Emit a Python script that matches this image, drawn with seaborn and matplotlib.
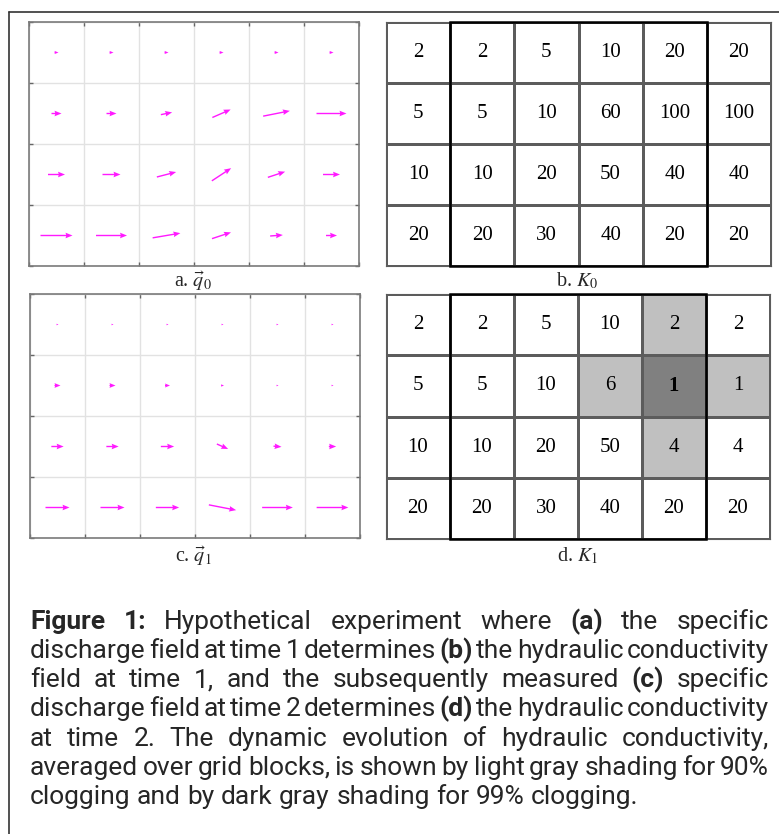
import numpy as np
import matplotlib
matplotlib.use('Agg')
import matplotlib.pyplot as plt
from matplotlib.colors import ListedColormap
from matplotlib.patches import Rectangle
from matplotlib.lines import Line2D
from matplotlib import font_manager
import seaborn as sns

# hydraulic conductivity grids (row 0 = top row)
k0_values = [[2, 2, 5, 10, 20, 20],
             [5, 5, 10, 60, 100, 100],
             [10, 10, 20, 50, 40, 40],
             [20, 20, 30, 40, 20, 20]]
k1_values = [[2, 2, 5, 10, 2, 2],
             [5, 5, 10, 6, 1, 1],
             [10, 10, 20, 50, 4, 4],
             [20, 20, 30, 40, 20, 20]]
# shading: 0 none, 1 = 90% clogging (light gray), 2 = 99% clogging (dark gray)
k0_clog = [[0] * 6 for _ in range(4)]
k1_clog = [[0, 0, 0, 0, 1, 0],
           [0, 0, 0, 1, 2, 1],
           [0, 0, 0, 0, 1, 0],
           [0, 0, 0, 0, 0, 0]]

# specific discharge vectors (x / y components, row 0 = top row)
q0_u = [[4, 4, 4, 4, 4, 4],
        [10, 10, 11.3, 18.3, 26.7, 30],
        [17, 18, 19.3, 19.3, 17.3, 17],
        [32, 31, 27.7, 19, 12.7, 11]]
q0_v = [[0, 0, 0, 0, 0, 0],
        [0, 0, 2.3, 8, 5.3, 0],
        [0, 0, 5, 12.7, 5.7, 0],
        [0, 0, 4.7, 6.3, 1, 0]]
q1_u = [[2, 2, 2, 2, 2, 2],
        [6, 6, 5, 3, 2, 2],
        [12.3, 12.3, 13.3, 11.3, 8, 7.3],
        [24, 24, 23.3, 27.3, 30.7, 31.7]]
q1_v = [[0, 0, 0, 0, 0, 0],
        [0, 0, 0, 0, 0, 0],
        [0, 0, 0, -5, -0.7, 0],
        [0, 0, 0, -5.3, 0, 0]]

panel_labels = [r"a. $\vec{q}_0$", r"b. $K_0$", r"c. $\vec{q}_1$", r"d. $K_1$"]

caption_lines = [
    "**Figure** **1:** Hypothetical experiment where **(a)** the specific",
    "discharge field at time 1 determines **(b)** the hydraulic conductivity",
    "field at time 1, and the subsequently measured **(c)** specific",
    "discharge field at time 2 determines **(d)** the hydraulic conductivity",
    "at time 2. The dynamic evolution of hydraulic conductivity,",
    "averaged over grid blocks, is shown by light gray shading for 90%",
    "clogging and by dark gray shading for 99% clogging.",
]

sns.set_style('white')
plt.rcParams['font.family'] = ['Liberation Serif', 'DejaVu Serif']
plt.rcParams['mathtext.fontset'] = 'stix'

W, H = 779, 834
fig = plt.figure(figsize=(W / 100, H / 100), dpi=100)


def px_axes(x0, y0, x1, y1):
    return fig.add_axes([x0 / W, 1 - y1 / H, (x1 - x0) / W, (y1 - y0) / H])


def draw_quiver(ax, u, v):
    u = np.array(u, float)
    v = np.array(v, float)
    nrow, ncol = u.shape
    X, Y = np.meshgrid(np.arange(ncol) + 0.5, nrow - 0.5 - np.arange(nrow))
    ax.quiver(X, Y, u, v, color='#ff1aff', angles='uv', units='dots',
              scale_units='dots', scale=1, pivot='middle', width=1.4,
              headwidth=4, headlength=5, headaxislength=4.5, zorder=3)
    ax.set_xlim(0, ncol)
    ax.set_ylim(0, nrow)
    ax.set_xticks(range(ncol + 1))
    ax.set_yticks(range(nrow + 1))
    ax.set_xticklabels([])
    ax.set_yticklabels([])
    ax.grid(True, color='#e2e2e2', lw=1)
    ax.tick_params(direction='in', length=3, color='#666666', width=1,
                   top=True, right=True, bottom=True, left=True)
    for s in ax.spines.values():
        s.set_visible(True)
        s.set_color('#7a7a7a')
        s.set_linewidth(1.2)


def draw_grid(ax, values, clog):
    clog = np.array(clog)
    sns.heatmap(clog, ax=ax, cmap=ListedColormap(['white', '#c0c0c0', '#808080']),
                vmin=0, vmax=2, cbar=False, annot=np.array(values), fmt='d',
                annot_kws={'color': 'black', 'fontsize': 15, 'family': 'Liberation Serif'},
                linewidths=0.8, linecolor='#5c5c5c', xticklabels=False, yticklabels=False)
    for t, c in zip(ax.texts, clog.ravel()):
        if c == 2:
            t.set_fontweight('bold')
    for s in ax.spines.values():
        s.set_visible(True)
        s.set_color('#5c5c5c')
        s.set_linewidth(0.8)
    # thick frame around the inner columns
    ax.add_patch(Rectangle((1, 0), 4, 4, fill=False, ec='black', lw=1.8,
                           clip_on=False, zorder=5))


ax_a = px_axes(29, 22, 359, 266)
draw_quiver(ax_a, q0_u, q0_v)
ax_b = px_axes(386, 22, 771, 266)
draw_grid(ax_b, k0_values, k0_clog)
ax_c = px_axes(30, 294, 360, 538)
draw_quiver(ax_c, q1_u, q1_v)
ax_d = px_axes(386, 294, 770, 539)
draw_grid(ax_d, k1_values, k1_clog)

for lab, (x, y) in zip(panel_labels, [(193, 281), (577, 281), (193, 556), (578, 556)]):
    fig.text(x / W, 1 - y / H, lab, ha='center', va='center', fontsize=14.5)

# outer frame (top and left edges visible)
fig.add_artist(Line2D([9 / W, 1], [1 - 12 / H, 1 - 12 / H], transform=fig.transFigure,
                      color='#333333', lw=1.2))
fig.add_artist(Line2D([9 / W, 9 / W], [0, 1 - 12 / H], transform=fig.transFigure,
                      color='#333333', lw=1.2))


# caption font: regular-width Roboto file, picked explicitly
def weight_of(f):
    if isinstance(f.weight, int):
        return f.weight
    return font_manager.weight_dict.get(f.weight, 400)


def pick_font(name, target):
    cands = [f for f in font_manager.fontManager.ttflist
             if f.name == name and f.style == 'normal'
             and 'condensed' not in f.fname.lower()
             and 'italic' not in f.fname.lower()]
    if not cands:
        return None
    return min(cands, key=lambda f: abs(weight_of(f) - target)).fname


reg_file = pick_font('Roboto', 400)
bold_file = pick_font('Roboto', 700)


def cap_prop(bold, fs):
    fname = bold_file if bold else reg_file
    if fname:
        return font_manager.FontProperties(fname=fname, size=fs)
    return font_manager.FontProperties(family=['Roboto', 'DejaVu Sans'],
                                       weight='bold' if bold else 'normal', size=fs)


fig.canvas.draw()
r = fig.canvas.get_renderer()
x_left, x_right = 30, 769
base0, line_step = 629, 29.15
tight = 0.55   # word spaces may shrink to this fraction when justifying


def split_words(line):
    return [(w.strip('*'), w.startswith('**')) for w in line.split(' ')]


def measure(words, fs):
    objs = [fig.text(0, 0, w, fontproperties=cap_prop(b, fs)) for w, b in words]
    widths = [t.get_window_extent(r).width for t in objs]
    for t in objs:
        t.remove()
    return widths


def space_width(fs):
    a = fig.text(0, 0, 'x x', fontproperties=cap_prop(False, fs))
    b = fig.text(0, 0, 'x', fontproperties=cap_prop(False, fs))
    sw = a.get_window_extent(r).width - 2 * b.get_window_extent(r).width
    a.remove()
    b.remove()
    return sw


ref_fs = 10
natural = []
for line in caption_lines[:-1]:
    words = split_words(line)
    natural.append(sum(measure(words, ref_fs)) + (len(words) - 1) * tight * space_width(ref_fs))
cap_fs = ref_fs * (x_right - x_left) / max(natural)
sp = space_width(cap_fs)

for i, line in enumerate(caption_lines):
    words = split_words(line)
    y = base0 + i * line_step
    objs = [fig.text(0, 1 - y / H, w, fontproperties=cap_prop(b, cap_fs),
                     va='baseline', ha='left')
            for w, b in words]
    widths = [t.get_window_extent(r).width for t in objs]
    last = i == len(caption_lines) - 1
    gap = sp if last else (x_right - x_left - sum(widths)) / (len(objs) - 1)
    x = x_left
    for t, wd in zip(objs, widths):
        t.set_x(x / W)
        x += wd + gap

fig.savefig('out.png', dpi=100)
